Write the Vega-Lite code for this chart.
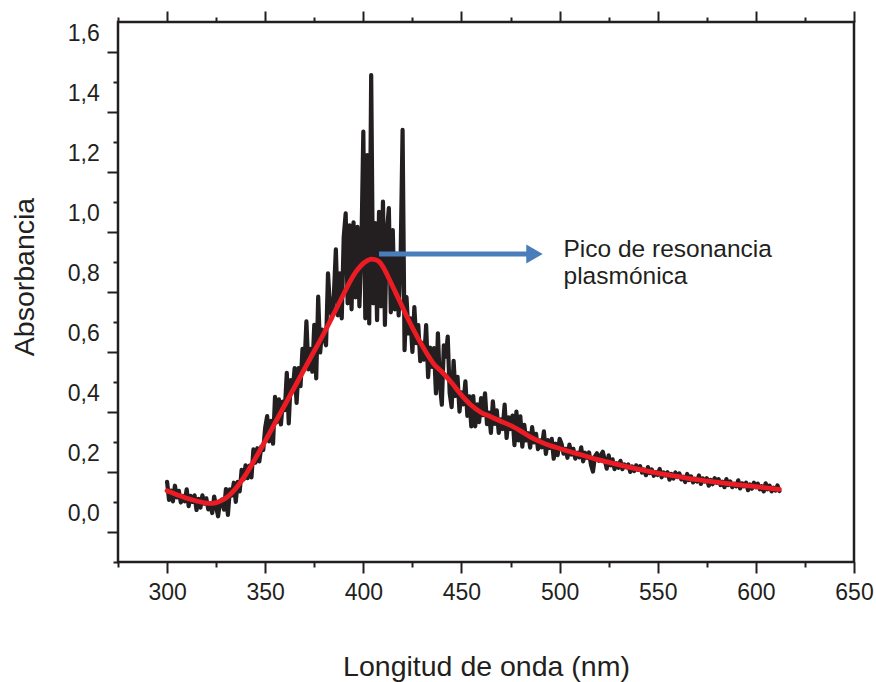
{
"$schema": "https://vega.github.io/schema/vega-lite/v6.json",
"width": 736, "height": 540,
"autosize": {"type": "none"},
"padding": {"left": 118, "top": 22, "right": 22, "bottom": 120},
"background": "white",
"datasets": {
"raw": [
{"nm":300,"abs":0.105},{"nm":301,"abs":0.045},{"nm":302,"abs":0.076},{"nm":303,"abs":0.040},{"nm":304,"abs":0.092},{"nm":305,"abs":0.053},{"nm":306,"abs":0.075},{"nm":307,"abs":0.036},{"nm":308,"abs":0.058},{"nm":309,"abs":0.040},
{"nm":310,"abs":0.080},{"nm":311,"abs":0.024},{"nm":312,"abs":0.058},{"nm":313,"abs":0.038},{"nm":314,"abs":0.060},{"nm":315,"abs":0.011},{"nm":316,"abs":0.048},{"nm":317,"abs":0.019},{"nm":318,"abs":0.060},{"nm":319,"abs":0.032},
{"nm":320,"abs":0.050},{"nm":321,"abs":0.013},{"nm":322,"abs":0.034},{"nm":323,"abs":0.001},{"nm":324,"abs":0.056},{"nm":325,"abs":0.022},{"nm":326,"abs":-0.010},{"nm":327,"abs":0.040},{"nm":328,"abs":0.046},{"nm":329,"abs":0.012},
{"nm":330,"abs":0.081},{"nm":331,"abs":-0.005},{"nm":332,"abs":0.080},{"nm":333,"abs":0.059},{"nm":334,"abs":0.102},{"nm":335,"abs":0.038},{"nm":336,"abs":0.105},{"nm":337,"abs":0.073},{"nm":338,"abs":0.145},{"nm":339,"abs":0.113},
{"nm":340,"abs":0.160},{"nm":341,"abs":0.117},{"nm":342,"abs":0.159},{"nm":343,"abs":0.120},{"nm":344,"abs":0.213},{"nm":345,"abs":0.169},{"nm":346,"abs":0.217},{"nm":347,"abs":0.173},{"nm":348,"abs":0.222},{"nm":349,"abs":0.211},
{"nm":350,"abs":0.286},{"nm":351,"abs":0.324},{"nm":352,"abs":0.240},{"nm":353,"abs":0.308},{"nm":354,"abs":0.232},{"nm":355,"abs":0.388},{"nm":356,"abs":0.304},{"nm":357,"abs":0.380},{"nm":358,"abs":0.296},{"nm":359,"abs":0.372},
{"nm":360,"abs":0.344},{"nm":361,"abs":0.468},{"nm":362,"abs":0.300},{"nm":363,"abs":0.444},{"nm":364,"abs":0.408},{"nm":365,"abs":0.484},{"nm":366,"abs":0.368},{"nm":367,"abs":0.484},{"nm":368,"abs":0.424},{"nm":369,"abs":0.548},
{"nm":370,"abs":0.488},{"nm":371,"abs":0.640},{"nm":372,"abs":0.480},{"nm":373,"abs":0.548},{"nm":374,"abs":0.472},{"nm":375,"abs":0.628},{"nm":376,"abs":0.450},{"nm":377,"abs":0.722},{"nm":378,"abs":0.536},{"nm":379,"abs":0.612},
{"nm":380,"abs":0.584},{"nm":381,"abs":0.560},{"nm":382,"abs":0.800},{"nm":383,"abs":0.687},{"nm":384,"abs":0.652},{"nm":385,"abs":0.729},{"nm":386,"abs":0.880},{"nm":387,"abs":0.660},{"nm":388,"abs":0.800},{"nm":389,"abs":0.650},
{"nm":390,"abs":0.920},{"nm":391,"abs":1.000},{"nm":392,"abs":0.700},{"nm":393,"abs":0.960},{"nm":394,"abs":0.680},{"nm":395,"abs":0.970},{"nm":396,"abs":0.720},{"nm":397,"abs":0.955},{"nm":398,"abs":0.690},{"nm":399,"abs":0.880},
{"nm":400,"abs":1.272},{"nm":401,"abs":0.650},{"nm":402,"abs":1.194},{"nm":403,"abs":0.633},{"nm":404,"abs":1.461},{"nm":405,"abs":0.700},{"nm":406,"abs":0.967},{"nm":407,"abs":0.644},{"nm":408,"abs":1.005},{"nm":409,"abs":0.690},
{"nm":410,"abs":1.039},{"nm":411,"abs":0.628},{"nm":412,"abs":0.940},{"nm":413,"abs":1.017},{"nm":414,"abs":0.670},{"nm":415,"abs":0.944},{"nm":416,"abs":0.680},{"nm":417,"abs":0.866},{"nm":418,"abs":0.660},{"nm":419,"abs":0.850},
{"nm":420,"abs":1.278},{"nm":421,"abs":0.544},{"nm":422,"abs":0.721},{"nm":423,"abs":0.600},{"nm":424,"abs":0.650},{"nm":425,"abs":0.538},{"nm":426,"abs":0.687},{"nm":427,"abs":0.567},{"nm":428,"abs":0.627},{"nm":429,"abs":0.507},
{"nm":430,"abs":0.568},{"nm":431,"abs":0.512},{"nm":432,"abs":0.627},{"nm":433,"abs":0.454},{"nm":434,"abs":0.552},{"nm":435,"abs":0.488},{"nm":436,"abs":0.551},{"nm":437,"abs":0.400},{"nm":438,"abs":0.600},{"nm":439,"abs":0.430},
{"nm":440,"abs":0.362},{"nm":441,"abs":0.560},{"nm":442,"abs":0.522},{"nm":443,"abs":0.589},{"nm":444,"abs":0.400},{"nm":445,"abs":0.354},{"nm":446,"abs":0.508},{"nm":447,"abs":0.391},{"nm":448,"abs":0.455},{"nm":449,"abs":0.339},
{"nm":450,"abs":0.403},{"nm":451,"abs":0.363},{"nm":452,"abs":0.440},{"nm":453,"abs":0.325},{"nm":454,"abs":0.390},{"nm":455,"abs":0.290},{"nm":456,"abs":0.391},{"nm":457,"abs":0.290},{"nm":458,"abs":0.363},{"nm":459,"abs":0.304},
{"nm":460,"abs":0.384},{"nm":461,"abs":0.327},{"nm":462,"abs":0.400},{"nm":463,"abs":0.297},{"nm":464,"abs":0.336},{"nm":465,"abs":0.268},{"nm":466,"abs":0.373},{"nm":467,"abs":0.298},{"nm":468,"abs":0.343},{"nm":469,"abs":0.268},
{"nm":470,"abs":0.313},{"nm":471,"abs":0.281},{"nm":472,"abs":0.362},{"nm":473,"abs":0.251},{"nm":474,"abs":0.320},{"nm":475,"abs":0.281},{"nm":476,"abs":0.326},{"nm":477,"abs":0.227},{"nm":478,"abs":0.339},{"nm":479,"abs":0.243},
{"nm":480,"abs":0.323},{"nm":481,"abs":0.222},{"nm":482,"abs":0.295},{"nm":483,"abs":0.243},{"nm":484,"abs":0.267},{"nm":485,"abs":0.219},{"nm":486,"abs":0.287},{"nm":487,"abs":0.236},{"nm":488,"abs":0.265},{"nm":489,"abs":0.214},
{"nm":490,"abs":0.243},{"nm":491,"abs":0.220},{"nm":492,"abs":0.273},{"nm":493,"abs":0.198},{"nm":494,"abs":0.244},{"nm":495,"abs":0.218},{"nm":496,"abs":0.248},{"nm":497,"abs":0.182},{"nm":498,"abs":0.232},{"nm":499,"abs":0.194},
{"nm":500,"abs":0.248},{"nm":501,"abs":0.232},{"nm":502,"abs":0.199},{"nm":503,"abs":0.215},{"nm":504,"abs":0.185},{"nm":505,"abs":0.229},{"nm":506,"abs":0.196},{"nm":507,"abs":0.215},{"nm":508,"abs":0.182},{"nm":509,"abs":0.202},
{"nm":510,"abs":0.187},{"nm":511,"abs":0.220},{"nm":512,"abs":0.173},{"nm":513,"abs":0.202},{"nm":514,"abs":0.185},{"nm":515,"abs":0.203},{"nm":516,"abs":0.161},{"nm":517,"abs":0.139},{"nm":518,"abs":0.190},{"nm":519,"abs":0.200},
{"nm":520,"abs":0.175},{"nm":521,"abs":0.194},{"nm":522,"abs":0.205},{"nm":523,"abs":0.178},{"nm":524,"abs":0.149},{"nm":525,"abs":0.193},{"nm":526,"abs":0.160},{"nm":527,"abs":0.180},{"nm":528,"abs":0.147},{"nm":529,"abs":0.167},
{"nm":530,"abs":0.152},{"nm":531,"abs":0.175},{"nm":532,"abs":0.147},{"nm":533,"abs":0.163},{"nm":534,"abs":0.153},{"nm":535,"abs":0.163},{"nm":536,"abs":0.138},{"nm":537,"abs":0.156},{"nm":538,"abs":0.141},{"nm":539,"abs":0.160},
{"nm":540,"abs":0.145},{"nm":541,"abs":0.157},{"nm":542,"abs":0.136},{"nm":543,"abs":0.146},{"nm":544,"abs":0.127},{"nm":545,"abs":0.154},{"nm":546,"abs":0.134},{"nm":547,"abs":0.146},{"nm":548,"abs":0.125},{"nm":549,"abs":0.137},
{"nm":550,"abs":0.128},{"nm":551,"abs":0.148},{"nm":552,"abs":0.120},{"nm":553,"abs":0.136},{"nm":554,"abs":0.126},{"nm":555,"abs":0.137},{"nm":556,"abs":0.112},{"nm":557,"abs":0.131},{"nm":558,"abs":0.116},{"nm":559,"abs":0.136},
{"nm":560,"abs":0.121},{"nm":561,"abs":0.133},{"nm":562,"abs":0.113},{"nm":563,"abs":0.122},{"nm":564,"abs":0.104},{"nm":565,"abs":0.131},{"nm":566,"abs":0.111},{"nm":567,"abs":0.123},{"nm":568,"abs":0.103},{"nm":569,"abs":0.115},
{"nm":570,"abs":0.106},{"nm":571,"abs":0.126},{"nm":572,"abs":0.098},{"nm":573,"abs":0.116},{"nm":574,"abs":0.106},{"nm":575,"abs":0.117},{"nm":576,"abs":0.092},{"nm":577,"abs":0.111},{"nm":578,"abs":0.097},{"nm":579,"abs":0.117},
{"nm":580,"abs":0.102},{"nm":581,"abs":0.114},{"nm":582,"abs":0.094},{"nm":583,"abs":0.105},{"nm":584,"abs":0.087},{"nm":585,"abs":0.114},{"nm":586,"abs":0.094},{"nm":587,"abs":0.106},{"nm":588,"abs":0.087},{"nm":589,"abs":0.099},
{"nm":590,"abs":0.090},{"nm":591,"abs":0.110},{"nm":592,"abs":0.083},{"nm":593,"abs":0.100},{"nm":594,"abs":0.090},{"nm":595,"abs":0.102},{"nm":596,"abs":0.077},{"nm":597,"abs":0.096},{"nm":598,"abs":0.082},{"nm":599,"abs":0.102},
{"nm":600,"abs":0.087},{"nm":601,"abs":0.099},{"nm":602,"abs":0.080},{"nm":603,"abs":0.090},{"nm":604,"abs":0.073},{"nm":605,"abs":0.100},{"nm":606,"abs":0.080},{"nm":607,"abs":0.092},{"nm":608,"abs":0.073},{"nm":609,"abs":0.085},
{"nm":610,"abs":0.076},{"nm":611,"abs":0.093},{"nm":612,"abs":0.074}
],
"fit": [
{"nm":300,"abs":0.075},{"nm":305,"abs":0.062},{"nm":310,"abs":0.050},{"nm":315,"abs":0.041},{"nm":320,"abs":0.034},{"nm":323,"abs":0.033},{"nm":326,"abs":0.038},{"nm":330,"abs":0.051},{"nm":333,"abs":0.068},{"nm":336,"abs":0.091},
{"nm":340,"abs":0.128},{"nm":345,"abs":0.183},{"nm":350,"abs":0.241},{"nm":355,"abs":0.301},{"nm":360,"abs":0.361},{"nm":365,"abs":0.421},{"nm":370,"abs":0.481},{"nm":375,"abs":0.541},{"nm":380,"abs":0.601},{"nm":385,"abs":0.666},
{"nm":390,"abs":0.731},{"nm":393,"abs":0.770},{"nm":396,"abs":0.803},{"nm":399,"abs":0.827},{"nm":402,"abs":0.842},{"nm":404,"abs":0.847},{"nm":406,"abs":0.846},{"nm":408,"abs":0.839},{"nm":410,"abs":0.822},{"nm":412,"abs":0.797},
{"nm":415,"abs":0.756},{"nm":418,"abs":0.714},{"nm":421,"abs":0.672},{"nm":424,"abs":0.632},{"nm":427,"abs":0.594},{"nm":430,"abs":0.559},{"nm":433,"abs":0.526},{"nm":436,"abs":0.497},{"nm":440,"abs":0.472},{"nm":445,"abs":0.435},
{"nm":450,"abs":0.394},{"nm":455,"abs":0.360},{"nm":460,"abs":0.336},{"nm":465,"abs":0.322},{"nm":470,"abs":0.307},{"nm":475,"abs":0.293},{"nm":480,"abs":0.275},{"nm":485,"abs":0.255},{"nm":490,"abs":0.239},{"nm":495,"abs":0.226},
{"nm":500,"abs":0.216},{"nm":505,"abs":0.206},{"nm":510,"abs":0.197},{"nm":520,"abs":0.178},{"nm":530,"abs":0.162},{"nm":540,"abs":0.147},{"nm":550,"abs":0.134},{"nm":560,"abs":0.123},{"nm":570,"abs":0.112},{"nm":580,"abs":0.104},
{"nm":590,"abs":0.096},{"nm":600,"abs":0.089},{"nm":612,"abs":0.080}
],
"arrow": [{"x1": 408, "x2": 487.2, "abs": 0.864}],
"note": [{"nm": 502, "abs": 0.855, "label": ["Pico de resonancia", "plasmónica"]}]
},
"resolve": {"axis": {"x": "independent"}},
"layer": [
{
"data": {"name": "raw"},
"mark": {"type": "line", "color": "#231f20", "strokeWidth": 4.2, "strokeJoin": "round", "strokeCap": "round"},
"encoding": {
"x": {"field": "nm", "type": "quantitative", "scale": {"domain": [275, 650], "nice": false, "zero": false},
"axis": {"orient": "bottom", "values": [275,300,325,350,375,400,425,450,475,500,525,550,575,600,625,650], "title": "Longitud de onda (nm)", "labelExpr": "datum.value % 50 === 0 ? datum.label : ''", "tickSize": {"condition": {"test": "datum.value % 50 === 0", "value": 11}, "value": 5}, "labelPadding": 8.5, "labelFontSize": 23, "titleFontSize": 28.5, "titleY": 113, "titleBaseline": "alphabetic", "labelFlush": false, "labelOverlap": false}},
"y": {"field": "abs", "type": "quantitative", "scale": {"domain": [-0.1623, 1.6377], "nice": false, "zero": false},
"axis": {"values": [-0.1,0,0.1,0.2,0.3,0.4,0.5,0.6,0.7,0.8,0.9,1.0,1.1,1.2,1.3,1.4,1.5,1.6], "title": "Absorbancia", "labelExpr": "abs(round(datum.value*10)) % 2 === 0 ? replace(format(datum.value, '.1f'), '.', ',') : ''", "tickSize": {"condition": {"test": "abs(round(datum.value*10)) % 2 === 0", "value": 11}, "value": 5}, "tickOffset": 18.3, "labelOffset": -18.3, "labelPadding": 7.7, "labelFontSize": 23, "titleFontSize": 28.5, "titleX": -84.7, "titleY": 254.5, "titleBaseline": "alphabetic", "labelFlush": false, "labelOverlap": false}}
}
},
{
"data": {"name": "fit"},
"mark": {"type": "line", "color": "#ed1c24", "strokeWidth": 4.8, "interpolate": "monotone", "strokeCap": "round"},
"encoding": {
"x": {"field": "nm", "type": "quantitative", "scale": {"domain": [275, 650], "nice": false, "zero": false},
"axis": {"orient": "top", "values": [275,300,325,350,375,400,425,450,475,500,525,550,575,600,625,650], "labels": false, "title": null, "tickSize": {"condition": {"test": "datum.value % 50 === 0", "value": 11}, "value": 5}}},
"y": {"field": "abs", "type": "quantitative", "scale": {"domain": [-0.1623, 1.6377], "nice": false, "zero": false},
"axis": {"values": [-0.1,0,0.1,0.2,0.3,0.4,0.5,0.6,0.7,0.8,0.9,1.0,1.1,1.2,1.3,1.4,1.5,1.6], "title": "Absorbancia", "labelExpr": "abs(round(datum.value*10)) % 2 === 0 ? replace(format(datum.value, '.1f'), '.', ',') : ''", "tickSize": {"condition": {"test": "abs(round(datum.value*10)) % 2 === 0", "value": 11}, "value": 5}, "tickOffset": 18.3, "labelOffset": -18.3, "labelPadding": 7.7, "labelFontSize": 23, "titleFontSize": 28.5, "titleX": -84.7, "titleY": 254.5, "titleBaseline": "alphabetic", "labelFlush": false, "labelOverlap": false}}
}
},
{
"data": {"name": "arrow"},
"mark": {"type": "rule", "color": "#4a7ebb", "strokeWidth": 5},
"encoding": {
"x": {"field": "x1", "type": "quantitative", "scale": {"domain": [275, 650], "nice": false, "zero": false}, "axis": null},
"x2": {"field": "x2"},
"y": {"field": "abs", "type": "quantitative", "scale": {"domain": [-0.1623, 1.6377], "nice": false, "zero": false},
"axis": {"values": [-0.1,0,0.1,0.2,0.3,0.4,0.5,0.6,0.7,0.8,0.9,1.0,1.1,1.2,1.3,1.4,1.5,1.6], "title": "Absorbancia", "labelExpr": "abs(round(datum.value*10)) % 2 === 0 ? replace(format(datum.value, '.1f'), '.', ',') : ''", "tickSize": {"condition": {"test": "abs(round(datum.value*10)) % 2 === 0", "value": 11}, "value": 5}, "tickOffset": 18.3, "labelOffset": -18.3, "labelPadding": 7.7, "labelFontSize": 23, "titleFontSize": 28.5, "titleX": -84.7, "titleY": 254.5, "titleBaseline": "alphabetic", "labelFlush": false, "labelOverlap": false}}
}
},
{
"data": {"name": "arrow"},
"mark": {"type": "point", "shape": "triangle-right", "size": 361, "filled": true, "color": "#4a7ebb", "opacity": 1},
"encoding": {
"x": {"field": "x2", "type": "quantitative", "scale": {"domain": [275, 650], "nice": false, "zero": false}, "axis": null},
"y": {"field": "abs", "type": "quantitative", "scale": {"domain": [-0.1623, 1.6377], "nice": false, "zero": false},
"axis": {"values": [-0.1,0,0.1,0.2,0.3,0.4,0.5,0.6,0.7,0.8,0.9,1.0,1.1,1.2,1.3,1.4,1.5,1.6], "title": "Absorbancia", "labelExpr": "abs(round(datum.value*10)) % 2 === 0 ? replace(format(datum.value, '.1f'), '.', ',') : ''", "tickSize": {"condition": {"test": "abs(round(datum.value*10)) % 2 === 0", "value": 11}, "value": 5}, "tickOffset": 18.3, "labelOffset": -18.3, "labelPadding": 7.7, "labelFontSize": 23, "titleFontSize": 28.5, "titleX": -84.7, "titleY": 254.5, "titleBaseline": "alphabetic", "labelFlush": false, "labelOverlap": false}}
}
},
{
"data": {"name": "note"},
"mark": {"type": "text", "align": "left", "baseline": "alphabetic", "fontSize": 24.5, "lineHeight": 27.3, "color": "#231f20", "font": "Liberation Sans"},
"encoding": {
"x": {"field": "nm", "type": "quantitative", "scale": {"domain": [275, 650], "nice": false, "zero": false}, "axis": null},
"y": {"field": "abs", "type": "quantitative", "scale": {"domain": [-0.1623, 1.6377], "nice": false, "zero": false},
"axis": {"values": [-0.1,0,0.1,0.2,0.3,0.4,0.5,0.6,0.7,0.8,0.9,1.0,1.1,1.2,1.3,1.4,1.5,1.6], "title": "Absorbancia", "labelExpr": "abs(round(datum.value*10)) % 2 === 0 ? replace(format(datum.value, '.1f'), '.', ',') : ''", "tickSize": {"condition": {"test": "abs(round(datum.value*10)) % 2 === 0", "value": 11}, "value": 5}, "tickOffset": 18.3, "labelOffset": -18.3, "labelPadding": 7.7, "labelFontSize": 23, "titleFontSize": 28.5, "titleX": -84.7, "titleY": 254.5, "titleBaseline": "alphabetic", "labelFlush": false, "labelOverlap": false}},
"text": {"field": "label"}
}
}
],
"config": {
"view": {"stroke": "#231f20", "strokeWidth": 2.5},
"axis": {"domain": false, "grid": false, "ticks": true, "tickColor": "#231f20", "tickWidth": 2, "labelColor": "#231f20", "labelFont": "Liberation Sans", "titleFont": "Liberation Sans", "titleColor": "#231f20", "titleFontWeight": "normal"}
}
}
